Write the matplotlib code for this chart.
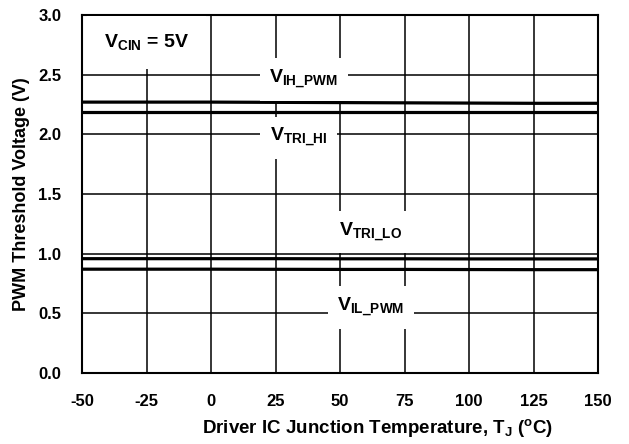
import matplotlib
matplotlib.use('Agg')
import matplotlib.pyplot as plt

plt.rcParams['font.family'] = ['Liberation Sans', 'DejaVu Sans']
plt.rcParams['font.weight'] = 'bold'
plt.rcParams['axes.unicode_minus'] = False
plt.rcParams['mathtext.fontset'] = 'custom'
plt.rcParams['mathtext.rm'] = 'Liberation Sans:bold'
plt.rcParams['mathtext.bf'] = 'Liberation Sans:bold'
plt.rcParams['mathtext.it'] = 'Liberation Sans:bold'

# temperature points (degC) and threshold voltages (V)
temp = [-50, -25, 0, 25, 50, 75, 100, 125, 150]
v_ih_pwm = [2.27, 2.27, 2.27, 2.268, 2.266, 2.264, 2.262, 2.26, 2.26]
v_tri_hi = [2.19, 2.19, 2.19, 2.19, 2.19, 2.19, 2.19, 2.19, 2.19]
v_tri_lo = [0.958, 0.958, 0.958, 0.958, 0.957, 0.957, 0.956, 0.956, 0.956]
v_il_pwm = [0.87, 0.87, 0.87, 0.869, 0.868, 0.868, 0.867, 0.866, 0.866]

xticks = [-50, -25, 0, 25, 50, 75, 100, 125, 150]
yticks = [0.0, 0.5, 1.0, 1.5, 2.0, 2.5, 3.0]

fig = plt.figure(figsize=(6.29, 4.44), dpi=100)
ax = fig.add_axes([82/629, 1 - 373/444, (598-82)/629, (373-15)/444])

for y in (v_ih_pwm, v_tri_hi, v_tri_lo, v_il_pwm):
    ax.plot(temp, y, color='black', linewidth=2.3, zorder=3)

ax.set_xlim(-50, 150)
ax.set_ylim(0, 3.0)
ax.set_xticks(xticks)
ax.set_yticks(yticks)
ax.set_yticklabels(['%.1f' % v for v in yticks])
ax.tick_params(length=0, labelsize=12)
ax.tick_params(axis='x', pad=15)
ax.tick_params(axis='y', pad=15)
ax.grid(True, color='black', linewidth=1.1, zorder=1)
ax.set_axisbelow(True)
for s in ax.spines.values():
    s.set_linewidth(1.5)

ax.set_xlabel(r'Driver IC Junction Temperature, $\mathbf{T_J}$ ($\mathbf{{}^{o}}$C)',
              fontsize=13.5, fontweight='bold')
ax.xaxis.set_label_coords(0.573, -0.122)
ax.set_ylabel('PWM Threshold Voltage (V)', fontsize=13, fontweight='bold', labelpad=6)

box = dict(facecolor='white', edgecolor='none', pad=7)
labels = [
    (-25, 2.77, r'$\mathbf{V_{CIN}}$ = 5V', dict(facecolor='white', edgecolor='none', pad=12)),
    (36, 2.46, r'$\mathbf{V_{IH\_PWM}}$', box),
    (34, 1.97, r'$\mathbf{V_{TRI\_HI}}$', box),
    (62, 1.18, r'$\mathbf{V_{TRI\_LO}}$', box),
    (62, 0.55, r'$\mathbf{V_{IL\_PWM}}$', box),
]
for x, y, s, b in labels:
    ax.text(x, y, s, fontsize=14, fontweight='bold', ha='center', va='center',
            bbox=b, zorder=4)

fig.savefig('out.png', dpi=100)
